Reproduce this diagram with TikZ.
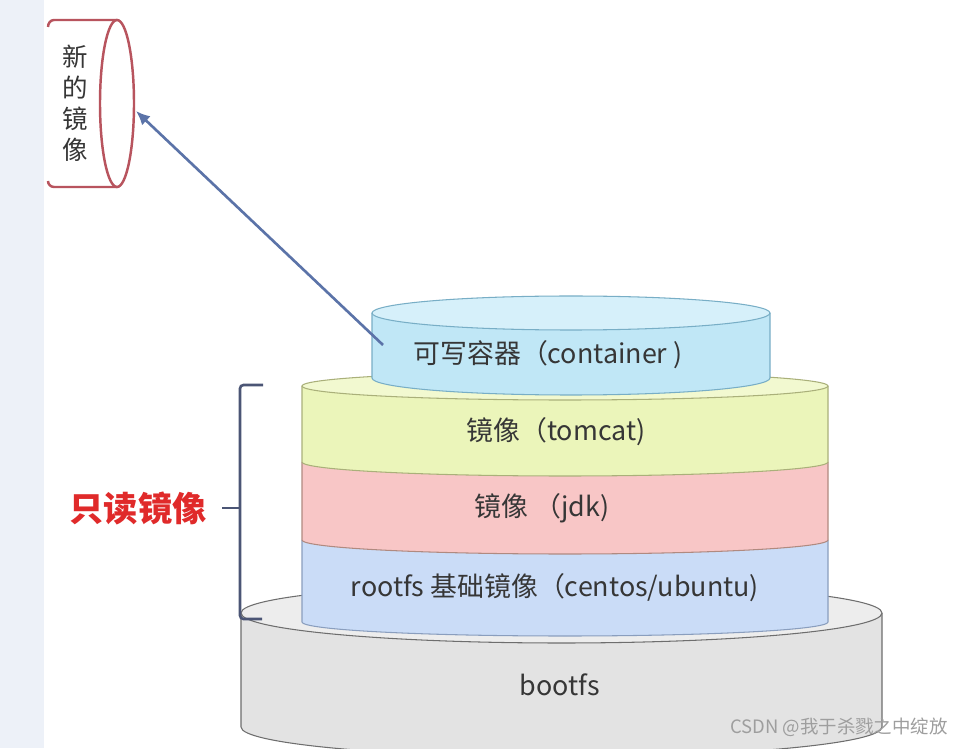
\documentclass[tikz,border=0pt]{standalone}
\usepackage{fontspec}
\setmainfont{Noto Sans CJK SC}
\usetikzlibrary{arrows.meta}

\definecolor{stripbg}{HTML}{EDF1F8}
\definecolor{newred}{HTML}{B8545E}
\definecolor{arrowblue}{HTML}{5B73A8}
\definecolor{bracketblue}{HTML}{4B5575}
\definecolor{labelred}{HTML}{E02A2A}
\definecolor{txtgray}{HTML}{363636}
\definecolor{contside}{HTML}{C0E7F6}
\definecolor{conttop}{HTML}{D6F0FA}
\definecolor{contline}{HTML}{78AEC6}
\definecolor{tomside}{HTML}{EBF5BA}
\definecolor{tomtop}{HTML}{F2F9D0}
\definecolor{tomline}{HTML}{AAB07A}
\definecolor{jdkside}{HTML}{F8C6C6}
\definecolor{jdkline}{HTML}{B08A80}
\definecolor{rootside}{HTML}{CADCF7}
\definecolor{rootline}{HTML}{8A9EBE}
\definecolor{bootside}{HTML}{E3E3E3}
\definecolor{boottop}{HTML}{EDEDED}
\definecolor{bootline}{HTML}{6E6E6E}

\tikzset{
  layertext/.style={text=txtgray, font=\fontsize{15.3}{18}\selectfont},
  layer/.style={line width=0.6pt}
}

\begin{document}
\begin{tikzpicture} [x=0.02cm, y=0.02cm]

\useasboundingbox (0,0) rectangle (971,748);
\fill [white] (0,0) rectangle (971,748);
\fill [stripbg] (0,0) rectangle (44,748);

%% bootfs at the bottom
\filldraw [layer, fill=bootside, draw=bootline] (241,135) -- (241,21)
   arc [start angle=180, end angle=360, x radius=320.5, y radius=30] -- (882,135);
\filldraw [layer, fill=boottop, draw=bootline] (561.5,135) ellipse [x radius=320.5, y radius=30];
\node (bootfs) [layertext] at (560,63) {bootfs};

%% rootfs
\filldraw [layer, fill=rootside, draw=rootline] (302,208) -- (302,126)
   arc [start angle=180, end angle=360, x radius=263, y radius=14] -- (828,208);
\node (rootfs) [layertext] at (555,160) {rootfs 基础镜像（centos/ubuntu)};

%% jdk
\filldraw [layer, fill=jdkside, draw=jdkline] (302,286) -- (302,208)
   arc [start angle=180, end angle=360, x radius=263, y radius=14] -- (828,286);
\node (jdk) [layertext] at (542,240) {镜像 （jdk)};

%% tomcat
\filldraw [layer, fill=tomside, draw=tomline] (302,362) -- (302,286)
   arc [start angle=180, end angle=360, x radius=263, y radius=14] -- (828,362);
\filldraw [layer, fill=tomtop, draw=tomline] (565,362) ellipse [x radius=263, y radius=14];
\node (tomcat) [layertext] at (556,316) {镜像（tomcat)};

%% writable container on top
\filldraw [layer, fill=contside, draw=contline] (372,435) -- (372,370)
   arc [start angle=180, end angle=360, x radius=199, y radius=17] -- (770,435);
\filldraw [layer, fill=conttop, draw=contline] (571,435) ellipse [x radius=199, y radius=17];
\node (container) [layertext] at (548,393) {可写容器（container )};

%% the new image, a cylinder lying on its side
\draw [newred, line width=1.4pt] (48,721) to [out=90,in=180] (54,728) -- (117,728);
\draw [newred, line width=1.4pt] (48,567) to [out=-90,in=180] (54,561) -- (117,561);
\draw [newred, line width=1.4pt] (117,644.5) ellipse [x radius=17, y radius=83.5];
\node (newimg) [text=txtgray, font=\fontsize{14.5}{17.6}\selectfont, align=center] at (75,645) {新\\的\\镜\\像};

%% commit arrow
\coordinate (commitfrom) at (383,403);
\coordinate (committo) at (136,637);
\draw [arrowblue, line width=1.5pt, -{Latex[length=8pt,width=7pt]}] (commitfrom) -- (committo);

%% bracket of the read only layers
\coordinate (brtop) at (263,363);
\coordinate (brbot) at (262,129);
\coordinate (brmid) at (240,240);
\draw [bracketblue, line width=1.5pt, rounded corners=2pt] (brtop) -- (240,363) -- (240,129) -- (brbot);
\draw [bracketblue, line width=1.5pt] (brmid) -- (222,240);
\node (readonly) [text=labelred, font=\fontsize{19.5}{22}\selectfont\bfseries] at (138,240) {只读镜像};

%% watermark
\node (mark) [text=black!38, font=\fontsize{10.5}{12}\selectfont] at (839,21) {CSDN @我于杀戮之中绽放};

\end{tikzpicture}
\end{document}
